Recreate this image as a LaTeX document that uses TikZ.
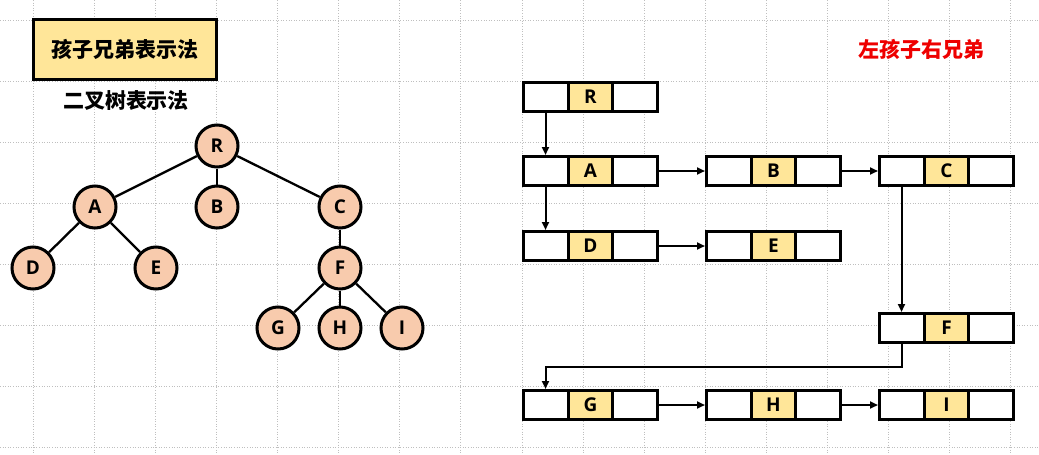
\documentclass[tikz,border=0pt]{standalone}
\usepackage{fontspec}
\setmainfont{Noto Sans CJK SC}
\newfontfamily\lat{Open Sans}
\usetikzlibrary{arrows.meta,calc}
\definecolor{peach}{HTML}{F8CBAD}
\definecolor{paleyellow}{HTML}{FFE699}
\definecolor{titlered}{HTML}{EE0000}
\tikzset{
  gridline/.style={draw=black!25, line width=0.6pt, dotted},
  treenode/.style={circle, draw=black, line width=3pt, fill=peach, minimum size=42pt, inner sep=0pt, font=\lat\bfseries\fontsize{19}{19}\selectfont},
  treeedge/.style={draw=black, line width=2.3pt},
  listbox/.style={rectangle, draw=black, line width=3pt, fill=white, minimum width=134pt, minimum height=29pt, inner sep=0pt},
  listmid/.style={rectangle, draw=black, line width=3pt, fill=paleyellow, minimum width=44pt, minimum height=29pt, inner sep=0pt, font=\lat\bfseries\fontsize{19}{19}\selectfont},
  link/.style={draw=black, line width=2pt, -{Triangle[length=8pt,width=7pt]}},
  titlebox/.style={rectangle, draw=black, line width=3pt, fill=paleyellow, minimum width=183pt, minimum height=60pt, inner sep=0pt, font=\bfseries\fontsize{21}{21}\selectfont},
  heading/.style={font=\bfseries\fontsize{21}{21}\selectfont, inner sep=0pt}
}
\newcommand{\listnode}[4]{%
  \node[listbox] (#1) at (#2,#3) {};
  \node[listmid] (#1m) at (#1.center) {#4};
  \coordinate (#1p) at ($(#1.center)+(-45pt,0)$);
}
\begin{document}
\begin{tikzpicture}[x=1pt,y=-1pt]
\useasboundingbox (0,0) rectangle (1039,455);
\fill[white] (0,0) rectangle (1039,455);
% grid
\foreach \k in {0,...,16} {
  \draw[gridline] ({33+61.1*\k},0) -- ({33+61.1*\k},455);
}
\foreach \k in {0,...,7} {
  \draw[gridline] (0,{20+61.1*\k}) -- (1039,{20+61.1*\k});
}
% titles
\node[titlebox] (title) at (125,49) {孩子兄弟表示法};
\node[heading] (bt) at (126,101) {二叉树表示法};
\node[heading, text=titlered] (lr) at (921,49) {左孩子右兄弟};
% tree
\node[treenode] (tR) at (217,146) {R};
\node[treenode] (tA) at (95,207) {A};
\node[treenode] (tB) at (217,207) {B};
\node[treenode] (tC) at (340,207) {C};
\node[treenode] (tD) at (33,268) {D};
\node[treenode] (tE) at (156,268) {E};
\node[treenode] (tF) at (340,268) {F};
\node[treenode] (tG) at (278,328) {G};
\node[treenode] (tH) at (340,328) {H};
\node[treenode] (tI) at (402,328) {I};
\draw[treeedge] (tR) -- (tA);
\draw[treeedge] (tR) -- (tB);
\draw[treeedge] (tR) -- (tC);
\draw[treeedge] (tA) -- (tD);
\draw[treeedge] (tA) -- (tE);
\draw[treeedge] (tC) -- (tF);
\draw[treeedge] (tF) -- (tG);
\draw[treeedge] (tF) -- (tH);
\draw[treeedge] (tF) -- (tI);
% lists
\listnode{lR}{590.5}{96.5}{R}
\listnode{lA}{590.5}{171}{A}
\listnode{lB}{773.5}{171}{B}
\listnode{lC}{946.5}{171}{C}
\listnode{lD}{590.5}{246}{D}
\listnode{lE}{773.5}{246}{E}
\listnode{lF}{946.5}{328}{F}
\listnode{lG}{590.5}{405}{G}
\listnode{lH}{773.5}{405}{H}
\listnode{lI}{946.5}{405}{I}
\draw[link] (lRp |- lR.south) -- (lRp |- lA.north);
\draw[link] (lAp |- lA.south) -- (lAp |- lD.north);
\draw[link] (lA.east) -- (lB.west);
\draw[link] (lB.east) -- (lC.west);
\draw[link] (lD.east) -- (lE.west);
\draw[link] (lCp |- lC.south) -- (lCp |- lF.north);
\coordinate (bend) at ($(lFp |- lF.south)+(0,23)$);
\draw[link] (lFp |- lF.south) -- (bend) -- (bend -| lGp) -- (lGp |- lG.north);
\draw[link] (lG.east) -- (lH.west);
\draw[link] (lH.east) -- (lI.west);
\end{tikzpicture}
\end{document}
